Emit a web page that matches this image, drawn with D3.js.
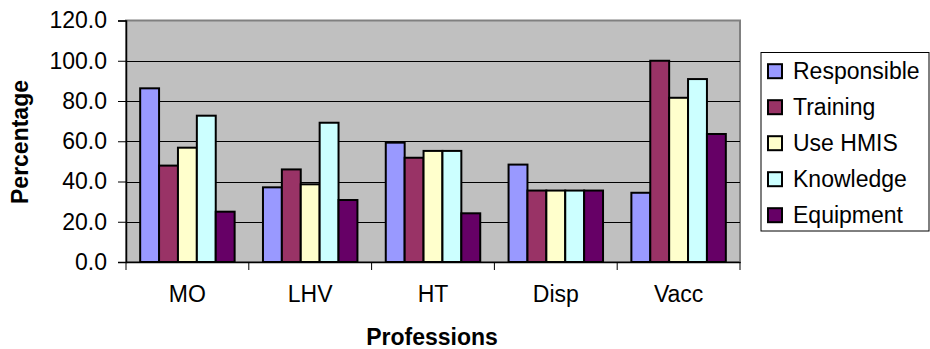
<!DOCTYPE html>
<html>
<head>
<meta charset="utf-8">
<script src="https://cdn.jsdelivr.net/npm/d3@7"></script>
<style>
  html, body { margin: 0; padding: 0; background: #ffffff; }
  svg { display: block; font-family: "Liberation Sans", Arial, sans-serif; }
</style>
</head>
<body>
<svg id="chart" width="930" height="349"></svg>
<script>
// Professions along the x axis
const professions = ["MO", "LHV", "HT", "Disp", "Vacc"];
// Survey items, one bar each per profession
const seriesNames = ["Responsible", "Training", "Use HMIS", "Knowledge", "Equipment"];
const seriesColors = ["#9999ff", "#993366", "#ffffcc", "#ccffff", "#660066"];
// Percentages per series, in profession order
const responsible = [86.3, 37.1, 59.3, 48.4, 34.4];
const training    = [47.9, 46.0, 51.8, 35.5, 100.0];
const useHmis     = [56.8, 38.6, 55.2, 35.5, 81.6];
const knowledge   = [72.7, 69.2, 55.2, 35.5, 90.9];
const equipment   = [25.0, 30.8, 24.2, 35.5, 63.6];
const yTicks = [0, 20, 40, 60, 80, 100, 120];

const seriesValues = [responsible, training, useHmis, knowledge, equipment];
const FONT = 23;

const svg = d3.select("#chart");
const plot = { left: 126, top: 20.5, right: 740, bottom: 262 };

const x = d3.scaleBand().domain(professions).range([plot.left, plot.right]).paddingInner(0).paddingOuter(0);
const barW = x.bandwidth() / 6.5;
const xSeries = d3.scaleBand().domain(seriesNames)
  .range([0, barW * 5]);
const y = d3.scaleLinear().domain([0, 120]).range([plot.bottom, plot.top]);

// plot area background
svg.append("rect")
  .attr("x", plot.left).attr("y", plot.top)
  .attr("width", plot.right - plot.left).attr("height", plot.bottom - plot.top)
  .attr("fill", "#c0c0c0")
  .attr("stroke", "#808080").attr("stroke-width", 2);

// gridlines
svg.append("g").selectAll("line")
  .data(yTicks.filter(t => t > 0 && t < 120))
  .join("line")
  .attr("x1", plot.left).attr("x2", plot.right)
  .attr("y1", d => Math.round(y(d)) + 0.5).attr("y2", d => Math.round(y(d)) + 0.5)
  .attr("stroke", "#000").attr("stroke-width", 1);

// bars
const groups = svg.append("g").selectAll("g")
  .data(professions)
  .join("g")
  .attr("transform", d => `translate(${x(d) + (x.bandwidth() - barW * 5) / 2},0)`);

groups.selectAll("rect")
  .data((p, i) => seriesNames.map((s, k) => ({ s, k, v: seriesValues[k][i] })))
  .join("rect")
  .attr("x", d => xSeries(d.s))
  .attr("width", xSeries.bandwidth())
  .attr("y", d => y(d.v))
  .attr("height", d => y(0) - y(d.v))
  .attr("fill", d => seriesColors[d.k])
  .attr("stroke", "#000").attr("stroke-width", 2);

// y axis
const yAxis = svg.append("g")
  .attr("transform", `translate(${plot.left},0)`)
  .call(d3.axisLeft(y).tickValues(yTicks).tickFormat(d3.format(".1f")).tickSize(8).tickPadding(11));
yAxis.select(".domain").attr("stroke", "#000").attr("stroke-width", 1.5);
yAxis.selectAll(".tick line").attr("stroke", "#000");
yAxis.selectAll("text").attr("font-size", FONT).attr("fill", "#000")
  .attr("font-family", "'Liberation Sans', Arial, sans-serif");

// x axis with ticks at category boundaries
const xAxis = svg.append("g")
  .attr("transform", `translate(0,${plot.bottom})`)
  .call(d3.axisBottom(x).tickSize(0).tickPadding(24));
xAxis.select(".domain").attr("stroke", "#000").attr("stroke-width", 1.5);
xAxis.selectAll("text").attr("font-size", FONT).attr("fill", "#000")
  .attr("font-family", "'Liberation Sans', Arial, sans-serif");
xAxis.selectAll("line.boundary")
  .data(professions.map(p => x(p)).concat([plot.right]))
  .join("line")
  .attr("class", "boundary")
  .attr("x1", d => d).attr("x2", d => d)
  .attr("y1", 0).attr("y2", 8)
  .attr("stroke", "#000");

// axis titles
svg.append("text")
  .attr("x", 432).attr("y", 345)
  .attr("text-anchor", "middle").attr("font-weight", "bold").attr("font-size", FONT)
  .text("Professions");
svg.append("text")
  .attr("transform", `translate(28,142) rotate(-90)`)
  .attr("text-anchor", "middle").attr("font-weight", "bold").attr("font-size", FONT)
  .text("Percentage");

// legend
const legend = svg.append("g");
legend.append("rect")
  .attr("x", 761).attr("y", 52.5).attr("width", 168).attr("height", 178.5)
  .attr("fill", "#fff").attr("stroke", "#000").attr("stroke-width", 1);
const items = legend.selectAll("g.item")
  .data(seriesNames)
  .join("g").attr("class", "item")
  .attr("transform", (d, i) => `translate(768,${71.2 + i * 36})`);
items.append("rect")
  .attr("x", 0).attr("y", -7).attr("width", 14).attr("height", 14)
  .attr("fill", (d, i) => seriesColors[i])
  .attr("stroke", "#000").attr("stroke-width", 2);
items.append("text")
  .attr("x", 25).attr("y", 7.5)
  .attr("font-size", FONT)
  .text(d => d);
</script>
</body>
</html>
